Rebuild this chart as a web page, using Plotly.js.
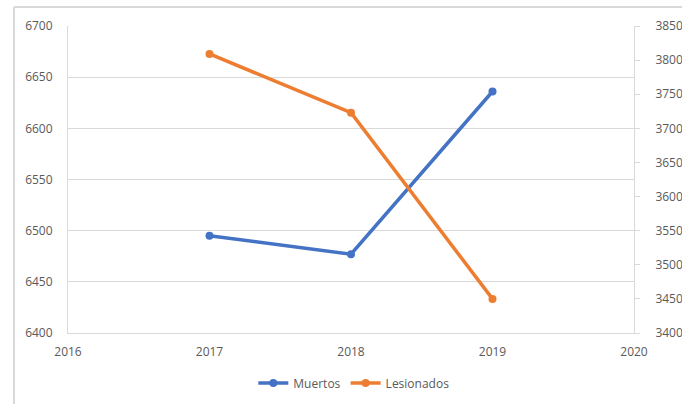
<!DOCTYPE html>
<html>
<head>
<meta charset="utf-8">
<script src="https://cdn.plot.ly/plotly-3.0.1.min.js"></script>
<style>
html,body{margin:0;padding:0;background:#fff;}
#chart{width:682px;height:404px;}
</style>
</head>
<body>
<div id="chart"></div>
<script>
const years = [2017, 2018, 2019];
const muertos = [6495, 6477, 6636];
const lesionados = [38090, 37230, 34500];
const seriesNames = ['Muertos', 'Lesionados'];
const leftTicks = [6400, 6450, 6500, 6550, 6600, 6650, 6700];
const rightTicks = [34000, 34500, 35000, 35500, 36000, 36500, 37000, 37500, 38000, 38500];
const xTicks = [2016, 2017, 2018, 2019, 2020];

const font = {family: 'Open Sans, Liberation Sans, sans-serif', size: 12, color: '#595959'};

const traces = [
  {x: years, y: muertos, name: seriesNames[0], type: 'scatter', mode: 'lines+markers',
   line: {color: '#4472C4', width: 3.5}, marker: {color: '#4472C4', size: 8}, yaxis: 'y'},
  {x: years, y: lesionados, name: seriesNames[1], type: 'scatter', mode: 'lines+markers',
   line: {color: '#ED7D31', width: 3.5}, marker: {color: '#ED7D31', size: 8}, yaxis: 'y2'}
];

const layout = {
  width: 682, height: 404,
  margin: {l: 68, r: 48, t: 26, b: 71},
  paper_bgcolor: '#fff', plot_bgcolor: '#fff',
  font: font,
  showlegend: true,
  legend: {orientation: 'h', x: 0.505, xanchor: 'center', xref: 'paper',
           y: 0.052, yanchor: 'middle', yref: 'container',
           font: font, itemwidth: 30, tracegroupgap: 0},
  xaxis: {range: [2016, 2020], tickvals: xTicks, ticktext: xTicks.map(String),
          showgrid: false, zeroline: false, showline: true, linecolor: '#d9d9d9', linewidth: 1,
          ticks: '', ticklabelstandoff: 8, fixedrange: true, automargin: false},
  yaxis: {range: [6400, 6700], tickvals: leftTicks, ticktext: leftTicks.map(String),
          showgrid: true, gridcolor: '#d9d9d9', gridwidth: 1, zeroline: false,
          showline: true, linecolor: '#d9d9d9', ticks: '', ticklabelstandoff: 12, automargin: false},
  yaxis2: {range: [34000, 38500], tickvals: rightTicks, ticktext: rightTicks.map(String),
           overlaying: 'y', side: 'right', showgrid: false, zeroline: false,
           showline: true, linecolor: '#d9d9d9', ticks: 'outside', ticklen: 5,
           tickcolor: '#d9d9d9', ticklabelstandoff: 13, automargin: false},
  shapes: [
    {type: 'line', xref: 'paper', yref: 'paper', x0: -0.0955, x1: -0.0955, y0: 1.062, y1: -0.3,
     line: {color: '#d9d9d9', width: 2}},
    {type: 'line', xref: 'paper', yref: 'paper', x0: -0.0955, x1: 1.2, y0: 1.062, y1: 1.062,
     line: {color: '#d9d9d9', width: 2}}
  ]
};

Plotly.newPlot('chart', traces, layout, {displayModeBar: false, staticPlot: true});
</script>
</body>
</html>
